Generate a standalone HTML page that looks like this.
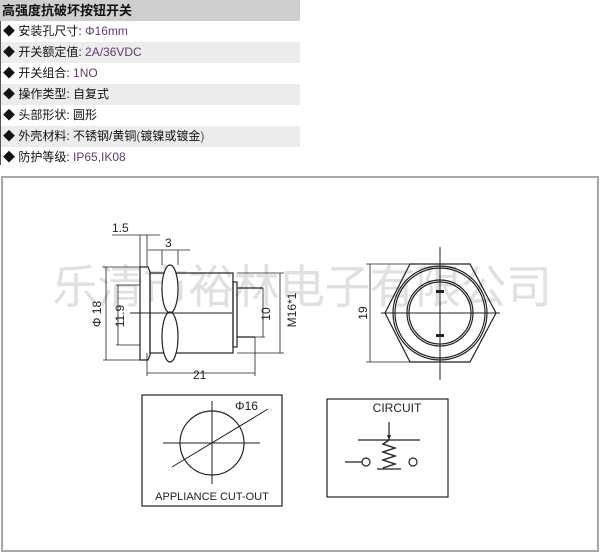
<!DOCTYPE html>
<html><head><meta charset="utf-8"><style>
body{margin:0;width:601px;height:554px;background:#fff;overflow:hidden;position:relative;font-family:"Liberation Sans","Noto Sans CJK SC",sans-serif;}
.row{position:absolute;left:0;width:300px;height:21px;border-left:1px solid #555;font-size:12px;line-height:21px;color:#111;box-sizing:border-box;padding-left:2px;}
.g{background:#ececec}
.v{color:#5e3f6a}
</style></head><body>
<div class="row" style="top:0;background:#cfcfcf;font-weight:bold;font-size:13px;border-left:none;">高强度抗破坏按钮开关</div>
<div class="row" style="top:21px">◆ 安装孔尺寸: <span class="v">Φ16mm</span></div>
<div class="row g" style="top:42px">◆ 开关额定值: <span class="v">2A/36VDC</span></div>
<div class="row" style="top:63px">◆ 开关组合: <span class="v">1NO</span></div>
<div class="row g" style="top:84px">◆ 操作类型: 自复式</div>
<div class="row" style="top:105px">◆ 头部形状: 圆形</div>
<div class="row g" style="top:126px">◆ 外壳材料: 不锈钢/黄铜<span class="v">(</span>镀镍或镀金<span class="v">)</span></div>
<div class="row" style="top:147px;height:18px">◆ 防护等级: <span class="v">IP65,IK08</span></div>
<svg width="601" height="554" style="position:absolute;left:0;top:0" font-family="Liberation Sans, sans-serif">
<rect x="2" y="177" width="596" height="374" fill="none" stroke="#a8a8a8" stroke-width="2"/>
<text x="52" y="303" font-size="46" fill="#e0e0e0" font-family="Liberation Sans, Noto Sans CJK SC, sans-serif" textLength="500">乐清市裕林电子有限公司</text>
<g stroke="#222" stroke-width="1.2" fill="none">
<!-- side view -->
<path d="M140 267 H148 L150 272 V355 L148 360 H140 Z"/>
<rect x="150" y="273" width="83" height="80"/>
<ellipse cx="170" cy="289" rx="8" ry="24" fill="#fff"/>
<ellipse cx="170" cy="337" rx="8" ry="25" fill="#fff"/>
<rect x="233" y="282" width="4" height="65"/>
<path d="M237 288 H263 M237 337 H255"/>
<path d="M130 313 H232" stroke-width="1"/>
<g stroke-width="0.8">
<path d="M106 267 V360 M103 267 H140 M103 360 H140"/>
<path d="M118 285 V345 M116 285 H140 M116 345 H140"/>
<path d="M263 288 V337 M255 337 H265"/>
<path d="M280 273 V353 M237 273 H284 M237 353 H284"/>
<path d="M147 373 H255 M147 353 V376 M255 337 V376"/>
<path d="M112 235 H160 M140 235 V267 M147 235 V267"/>
<path d="M148 250 H190 M162 250 V265 M178 250 V265"/>
</g>
<!-- front view -->
<path d="M410 264 H470 L496 313 L470 362 H410 L385 313 Z"/>
<circle cx="440" cy="313" r="47"/><circle cx="440" cy="313" r="45"/>
<circle cx="440" cy="313" r="33"/><circle cx="440" cy="313" r="31"/>
<path d="M440 247 V380 M381 313 H500" stroke-width="1"/>
<path d="M370 264 V362 M366 264 H410 M366 362 H410" stroke-width="0.8"/>
<!-- appliance -->
<rect x="142" y="395" width="140" height="111"/>
<circle cx="212" cy="443" r="32"/>
<path d="M163 443 H260 M212 401 V484 M172 467 L268 409" stroke-width="1"/>
<!-- circuit -->
<rect x="327" y="399" width="121" height="98"/>
<path d="M358 440 H420 M389 422 V440 M377 469 H401 M345 462 H362"/>
<path d="M389 440 L383 444 L395 448 L383 452 L395 456 L383 460 L395 464 L383 468" stroke-width="1.4"/>
<circle cx="366" cy="462" r="4"/><circle cx="413" cy="462" r="4"/>
</g>
<g fill="#222">
<rect x="436" y="290" width="8" height="3"/><rect x="436" y="334" width="8" height="3"/>
<path d="M389 440 l-2 -5 h4 z"/>
</g>
<g fill="#222" font-size="12">
<text x="112" y="232">1.5</text>
<text x="165" y="247">3</text>
<text x="101" y="314" transform="rotate(-90 101 314)" text-anchor="middle">Φ 18</text>
<text x="124" y="316" transform="rotate(-90 124 316)" text-anchor="middle">11.9</text>
<text x="270" y="314" transform="rotate(-90 270 314)" text-anchor="middle">10</text>
<text x="296" y="310" transform="rotate(-90 296 310)" text-anchor="middle">M16*1</text>
<text x="193" y="379">21</text>
<text x="367" y="313" transform="rotate(-90 367 313)" text-anchor="middle">19</text>
<text x="235" y="410">Φ16</text>
<text x="212" y="500" text-anchor="middle" font-size="11">APPLIANCE CUT-OUT</text>
<text x="397" y="412" text-anchor="middle" font-size="12">CIRCUIT</text>
</g>
</svg>
</body></html>
